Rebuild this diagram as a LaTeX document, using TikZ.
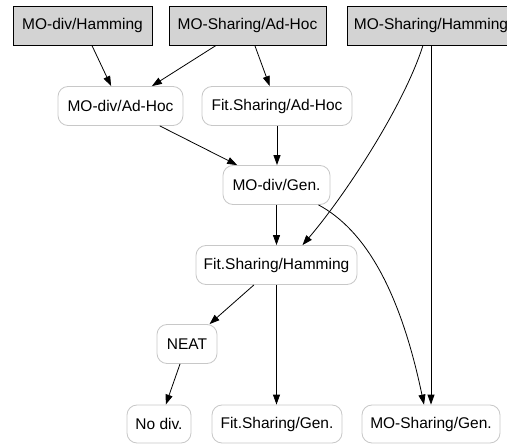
\documentclass[tikz,border=0pt]{standalone}
\usepackage{fontspec}
\setmainfont{Liberation Sans}
\usetikzlibrary{arrows.meta,calc}
\definecolor{topfill}{HTML}{D3D3D3}
\definecolor{softline}{HTML}{C8C8C8}
\begin{document}
\begin{tikzpicture}[x=1pt,y=-1pt,
  every node/.style={font=\fontsize{15.5}{18}\selectfont, inner sep=0pt, anchor=center},
  topbox/.style={draw=black, fill=topfill, line width=0.8pt, minimum height=39pt},
  softbox/.style={draw=softline, fill=white, line width=0.8pt, rounded corners=10pt, minimum height=39pt},
  edge/.style={draw=black, line width=0.8pt, -{Triangle[length=10pt,width=7pt]}}]
\useasboundingbox (0,0) rectangle (507,444);
\node[topbox, minimum width=139pt] (mdh) at (82.5,25.5) {MO-div/Hamming};
\node[topbox, minimum width=157pt] (msa) at (247.5,25.5) {MO-Sharing/Ad-Hoc};
\node[topbox, minimum width=168pt] (msh) at (431,25.5) {MO-Sharing/Hamming};
\node[softbox, minimum width=125pt] (mda) at (120.5,106) {MO-div/Ad-Hoc};
\node[softbox, minimum width=150pt] (fsa) at (277,106) {Fit.Sharing/Ad-Hoc};
\node[softbox, minimum width=107pt] (mdg) at (276.5,185) {MO-div/Gen.};
\node[softbox, minimum width=161pt] (fsh) at (276.5,265) {Fit.Sharing/Hamming};
\node[softbox, minimum width=60pt] (neat) at (187,344) {NEAT};
\node[softbox, minimum width=64pt, minimum height=38pt] (nod) at (159,424) {No div.};
\node[softbox, minimum width=130pt, minimum height=38pt] (fsg) at (277,424) {Fit.Sharing/Gen.};
\node[softbox, minimum width=138pt, minimum height=38pt] (msg) at (431,424) {MO-Sharing/Gen.};
\draw[edge] (mdh) -- (mda);
\draw[edge] (msa) -- (mda);
\draw[edge] (msa) -- (fsa);
\draw[edge] (mda) -- (mdg);
\draw[edge] (fsa.south) -- (fsa.south |- mdg.north);
\draw[edge] (mdg.south) -- (mdg.south |- fsh.north);
\draw[edge] (fsh) -- (neat);
\draw[edge] (fsh.south) -- (fsh.south |- fsg.north);
\draw[edge] (neat) -- (nod);
\draw[edge] (msh.south) -- (msg.north);
\draw[edge] ($(msh.south)+(-8,0)$) .. controls (403,108) and (343,198) .. ($(fsh.north)+(26,0)$);
\draw[edge] ($(mdg.south)+(42,0)$) .. controls (365,230) and (400,290) .. ($(msg.north)+(-7,0)$);
\end{tikzpicture}
\end{document}
